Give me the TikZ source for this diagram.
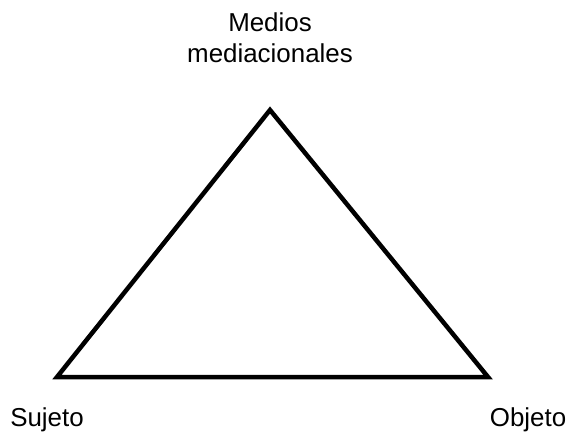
\documentclass[tikz,border=0pt]{standalone}
\usepackage{fontspec}
\setmainfont{Liberation Sans}
\begin{document}
\begin{tikzpicture}[x=1bp,y=-1bp,
  edge/.style={line width=4.5bp,line join=miter},
  lbl/.style={font=\fontsize{26}{31}\selectfont,inner sep=0pt,align=center}]
\useasboundingbox (0,0) rectangle (571,436);
\coordinate (top) at (270,110);
\coordinate (left) at (57,377);
\coordinate (right) at (488,377);
\draw[edge] (top) -- (right) -- (left) -- cycle;
\node[lbl] (medios) at (270,38) {Medios\\mediacionales};
\node[lbl] (sujeto) at (47,420) {Sujeto};
\node[lbl] (objeto) at (528,420) {Objeto};
\end{tikzpicture}
\end{document}
